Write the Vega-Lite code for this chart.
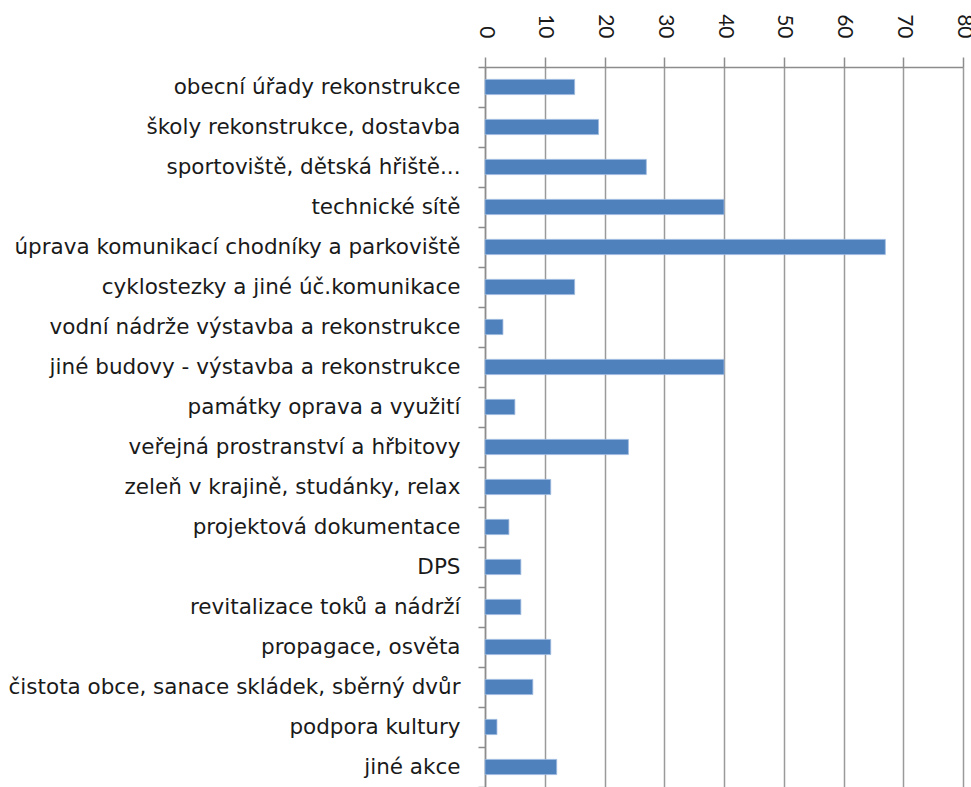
{
  "$schema": "https://vega.github.io/schema/vega-lite/v6.json",
  "autosize": "none",
  "width": 478,
  "height": 720,
  "padding": {"left": 485, "top": 67, "right": 8, "bottom": 0},
  "background": "white",
  "data": {"values": [
    {"cat": "obecní úřady rekonstrukce", "v": 15},
    {"cat": "školy rekonstrukce, dostavba", "v": 19},
    {"cat": "sportoviště, dětská hřiště...", "v": 27},
    {"cat": "technické sítě", "v": 40},
    {"cat": "úprava komunikací chodníky a parkoviště", "v": 67},
    {"cat": "cyklostezky a jiné úč.komunikace", "v": 15},
    {"cat": "vodní nádrže výstavba a rekonstrukce", "v": 3},
    {"cat": "jiné budovy - výstavba a rekonstrukce", "v": 40},
    {"cat": "památky oprava a využití", "v": 5},
    {"cat": "veřejná prostranství a hřbitovy", "v": 24},
    {"cat": "zeleň v krajině, studánky, relax", "v": 11},
    {"cat": "projektová dokumentace", "v": 4},
    {"cat": "DPS", "v": 6},
    {"cat": "revitalizace toků a nádrží", "v": 6},
    {"cat": "propagace, osvěta", "v": 11},
    {"cat": "čistota obce, sanace skládek, sběrný dvůr", "v": 8},
    {"cat": "podpora kultury", "v": 2},
    {"cat": "jiné akce", "v": 12}
  ]},
  "mark": {"type": "bar", "color": "#4F81BD", "stroke": "#9DB9DE", "strokeWidth": 0.8, "height": {"band": 0.38}},
  "encoding": {
    "y": {
      "field": "cat", "type": "nominal", "sort": null, "title": null,
      "scale": {"paddingInner": 0, "paddingOuter": 0},
      "axis": {
        "domainColor": "#8c8c8c", "domainWidth": 1.5,
        "tickColor": "#8c8c8c", "tickWidth": 1.5, "tickSize": 7, "tickBand": "extent",
        "labelFont": "DejaVu Sans", "labelFontSize": 21.5, "labelColor": "#1a1a1a",
        "labelPadding": 18, "labelLimit": 600, "grid": false
      }
    },
    "x": {
      "field": "v", "type": "quantitative", "title": null,
      "scale": {"domain": [0, 80], "nice": false},
      "axis": {
        "orient": "top", "values": [0, 10, 20, 30, 40, 50, 60, 70, 80],
        "labelAngle": 90, "labelAlign": "right", "labelBaseline": "middle",
        "labelFont": "Lato", "labelFontSize": 21, "labelColor": "#1a1a1a", "labelPadding": 19,
        "domainColor": "#8c8c8c", "domainWidth": 1.5,
        "tickColor": "#8c8c8c", "tickWidth": 1.5, "tickSize": 10,
        "grid": true, "gridColor": "#9a9a9a", "gridWidth": 1.5
      }
    }
  },
  "config": {"view": {"stroke": null}}
}
